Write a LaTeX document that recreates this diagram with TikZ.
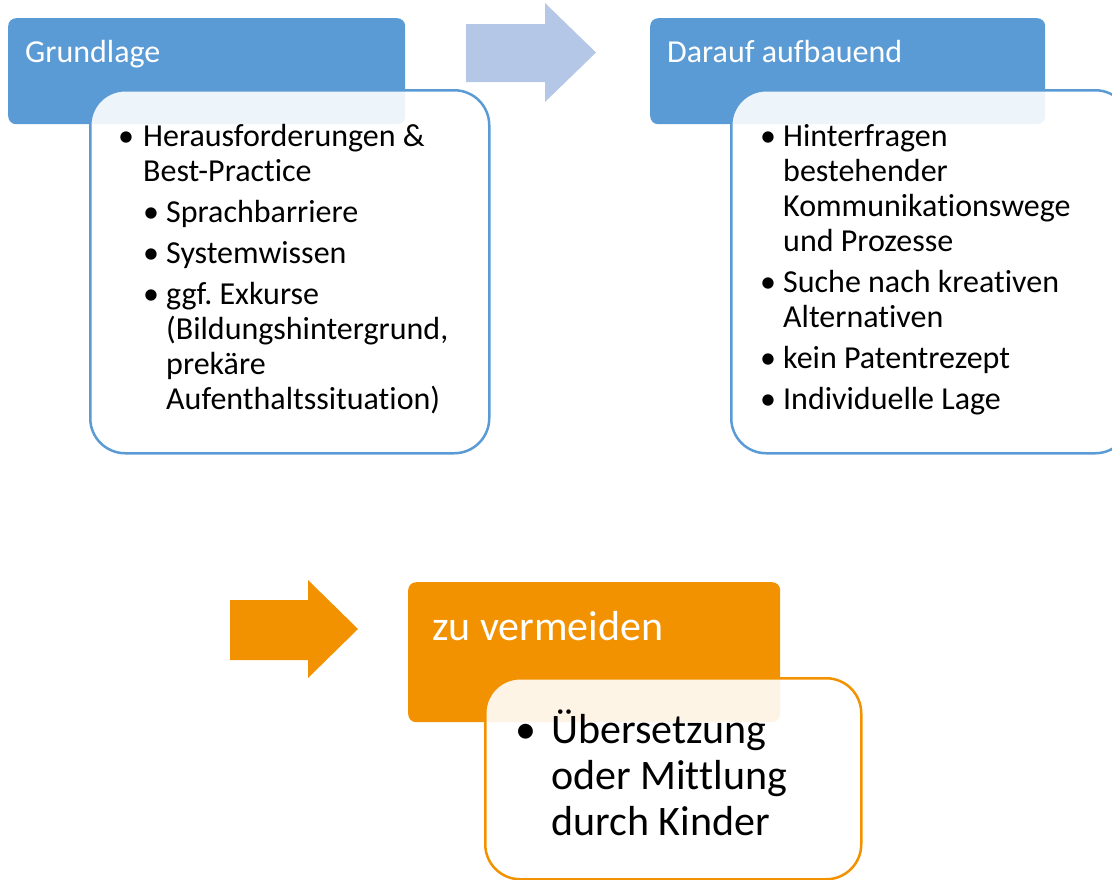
\documentclass[tikz,border=0pt]{standalone}
\usepackage{fontspec}
\setmainfont{Carlito}[Ligatures=NoCommon]
\usepackage{tikz}
\usetikzlibrary{positioning}
\definecolor{smblau}{RGB}{91,155,213}
\definecolor{smhellblau}{RGB}{180,199,231}
\definecolor{smorange}{RGB}{242,146,0}
\tikzstyle{kopf} = [rectangle, rounded corners=8pt, anchor=north west, inner sep=0pt]
\tikzstyle{inhalt} = [rectangle, rounded corners=35pt, anchor=north west, fill=white, fill opacity=0.9, line width=2.5pt, inner sep=0pt]
\tikzstyle{titel} = [anchor=base west, inner sep=0pt, text=white, font=\fontsize{32}{35}\selectfont]
\tikzstyle{liste} = [anchor=base west, inner sep=0pt, text=black, font=\fontsize{32}{35}\selectfont]
\newcommand{\punkt}[1]{\makebox[#1][l]{\textbullet}}
\frenchspacing

\begin{document}
\begin{tikzpicture}[x=1pt, y=-1pt]
        \useasboundingbox (0,0) rectangle (1112,879);
        % Grundlage
        \node (grundlage) [kopf, fill=smblau, minimum width=397, minimum height=106] at (8,18) {};
        \node (grundlage-titel) [titel] at (25,62) {Grundlage};
        \node (grundlage-inhalt) [inhalt, draw=smblau, minimum width=399, minimum height=363] at (89,89) {};
        \node (grundlage-liste) [liste] at (118,146) {\begin{tabular}[t]{@{}l@{}}
            \punkt{25pt}Herausforderungen \& \\
            \hspace{25pt}Best-Practice \\[6pt]
            \hspace{25pt}\punkt{23pt}Sprachbarriere \\[6pt]
            \hspace{25pt}\punkt{23pt}Systemwissen \\[6pt]
            \hspace{25pt}\punkt{23pt}ggf. Exkurse \\
            \hspace{48pt}(Bildungshintergrund, \\
            \hspace{48pt}prekäre \\
            \hspace{48pt}Aufenthaltssituation)
        \end{tabular}};

        % Pfeil oben
        \fill [smhellblau] (466,24) -- (545,24) -- (545,3) -- (596,52.5) -- (545,102) -- (545,82) -- (466,82) -- cycle;

        % Darauf aufbauend
        \node (aufbauend) [kopf, fill=smblau, minimum width=395, minimum height=106] at (650,18) {};
        \node (aufbauend-titel) [titel] at (667,62) {Darauf aufbauend};
        \node (aufbauend-inhalt) [inhalt, draw=smblau, minimum width=399, minimum height=363] at (730,89) {};
        \node (aufbauend-liste) [liste] at (760,146) {\begin{tabular}[t]{@{}l@{}}
            \punkt{23pt}Hinterfragen \\
            \hspace{23pt}bestehender \\
            \hspace{23pt}Kommunikationswege \\
            \hspace{23pt}und Prozesse \\[6pt]
            \punkt{23pt}Suche nach kreativen \\
            \hspace{23pt}Alternativen \\[6pt]
            \punkt{23pt}kein Patentrezept \\[6pt]
            \punkt{23pt}Individuelle Lage
        \end{tabular}};

        % Pfeil unten
        \fill [smorange] (230,600) -- (308,600) -- (308,580) -- (358,629) -- (308,678) -- (308,660) -- (230,660) -- cycle;

        % zu vermeiden
        \node (vermeiden) [kopf, fill=smorange, minimum width=372, minimum height=140] at (408,582) {};
        \node (vermeiden-titel) [titel, font=\fontsize{42}{46}\selectfont] at (432,640) {zu vermeiden};
        \node (vermeiden-inhalt) [inhalt, draw=smorange, minimum width=376, minimum height=201] at (484,677) {};
        \node (vermeiden-liste) [liste, font=\fontsize{42}{46}\selectfont] at (515,743) {\begin{tabular}[t]{@{}l@{}}
            \punkt{36pt}Übersetzung \\
            \hspace{36pt}oder Mittlung \\
            \hspace{36pt}durch Kinder
        \end{tabular}};
    \end{tikzpicture}
\end{document}
